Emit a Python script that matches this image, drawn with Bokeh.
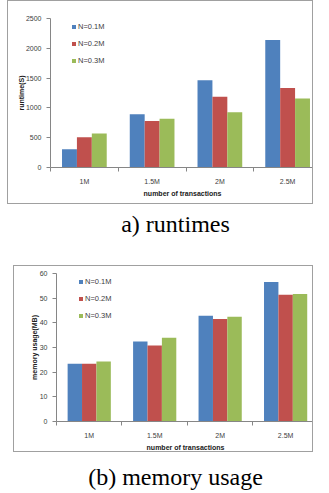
from bokeh.plotting import figure
from bokeh.layouts import column
from bokeh.models import (Div, Range1d, FixedTicker, SingleIntervalTicker, Legend,
                          LegendItem, ColumnDataSource)
from bokeh.transform import dodge
from bokeh.embed import file_html
from bokeh.resources import INLINE

categories = ["1M", "1.5M", "2M", "2.5M"]
series = ["N=0.1M", "N=0.2M", "N=0.3M"]
colors = ["#4F81BD", "#C0504D", "#9BBB59"]

runtime_n01 = [305, 895, 1465, 2140]
runtime_n02 = [508, 780, 1185, 1335]
runtime_n03 = [570, 818, 925, 1158]

memory_n01 = [23.4, 32.4, 42.9, 56.6]
memory_n02 = [23.4, 30.8, 41.6, 51.4]
memory_n03 = [24.3, 34.0, 42.5, 51.7]

caption_a = "a) runtimes"
caption_b = "(b) memory usage"

FONT = "Liberation Sans"
AX = "#868686"


def make_chart(vals, ylabel, ymax, interval, width, height, left, top, bottom,
               x_end, margin, leg_loc, ylab_standoff):
    p = figure(width=width, height=height, output_backend="svg", toolbar_location=None,
               x_range=Range1d(-0.5, x_end), y_range=Range1d(0, ymax),
               min_border_left=left, min_border_right=0, min_border_top=top,
               min_border_bottom=bottom, margin=margin,
               styles={"border": "1px solid #a0a0a0", "box-sizing": "border-box"})
    p.outline_line_color = None
    p.xgrid.visible = False
    p.ygrid.visible = False
    src = ColumnDataSource(dict(x=list(range(len(categories))), s0=vals[0], s1=vals[1], s2=vals[2]))
    offs = [-0.22, 0.0, 0.22]
    rs = []
    for i in range(3):
        r = p.vbar(x=dodge("x", offs[i]), top="s%d" % i, width=0.22, source=src,
                   fill_color=colors[i], line_color=None)
        rs.append(r)
    # x axis
    xa = p.xaxis[0]
    xa.ticker = FixedTicker(ticks=list(range(len(categories))),
                            minor_ticks=[k - 0.5 for k in range(len(categories) + 1)])
    xa.major_label_overrides = {i: c for i, c in enumerate(categories)}
    xa.major_tick_out = 0
    xa.major_tick_in = 0
    xa.minor_tick_out = 4
    xa.minor_tick_in = 0
    xa.minor_tick_line_color = AX
    xa.axis_line_color = AX
    xa.major_label_text_font = FONT
    xa.major_label_text_font_size = "7px"
    xa.major_label_text_color = "#404040"
    xa.major_label_standoff = 6
    xa.axis_label = "number of transactions"
    xa.axis_label_text_font = FONT
    xa.axis_label_text_font_size = "7px"
    xa.axis_label_text_font_style = "bold"
    xa.axis_label_text_color = "#202020"
    xa.axis_label_standoff = 2
    # y axis
    ya = p.yaxis[0]
    ya.ticker = SingleIntervalTicker(interval=interval)
    ya.minor_tick_line_color = None
    ya.major_tick_out = 4
    ya.major_tick_in = 0
    ya.major_tick_line_color = AX
    ya.axis_line_color = AX
    ya.major_label_text_font = FONT
    ya.major_label_text_font_size = "7px"
    ya.major_label_text_color = "#404040"
    ya.major_label_standoff = 5
    ya.axis_label = ylabel
    ya.axis_label_text_font = FONT
    ya.axis_label_text_font_size = "7px"
    ya.axis_label_text_font_style = "bold"
    ya.axis_label_text_color = "#202020"
    ya.axis_label_standoff = ylab_standoff
    legend = Legend(items=[LegendItem(label=series[i], renderers=[rs[i]]) for i in range(3)],
                    location=leg_loc, orientation="vertical", glyph_width=5, glyph_height=5,
                    label_text_font=FONT, label_text_font_size="7.5px",
                    label_text_color="#404040", label_height=9, label_standoff=2,
                    spacing=8, padding=0, margin=0, background_fill_alpha=0,
                    border_line_color=None)
    p.add_layout(legend)
    return p


def caption(text, height, pad):
    html = ('<div style="font-family:\'Liberation Serif\',\'Times New Roman\',serif;font-size:24px;'
            'line-height:24px;text-align:center;width:313px;box-sizing:border-box;'
            'padding-left:28px;color:#000;padding-top:%dpx;">%s</div>'
            % (pad, text))
    return Div(text=html, width=313, height=height, styles={"overflow": "hidden"})


p1 = make_chart([runtime_n01, runtime_n02, runtime_n03], "runtime(S)", 2500, 500,
                306, 204, 42, 17, 38, -0.5 + 264 / 67.75, (0, 0, 0, 7), (21, 102), -2)
d1 = caption(caption_a, 51, 3)
p2 = make_chart([memory_n01, memory_n02, memory_n03], "memory usage(MB)", 60, 10,
                300, 187, 32, 7, 31, -0.5 + 268 / 68.0, (0, 0, 0, 13), (22, 101), -1)
d2 = caption(caption_b, 35, 8)

layout = column(p1, d1, p2, d2, spacing=0)
open("out.html", "w").write(file_html(layout, INLINE))
